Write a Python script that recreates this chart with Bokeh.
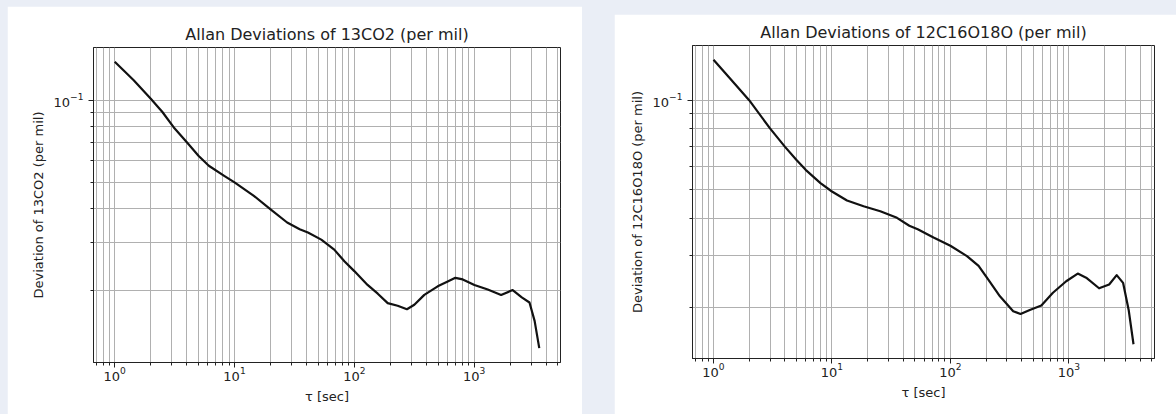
import math
from bokeh.plotting import figure
from bokeh.models import FixedTicker, Spacer, GlobalInlineStyleSheet, Range1d
from bokeh.layouts import row, column
from bokeh.embed import file_html
from bokeh.resources import INLINE

# ---- data ----
tau_13co2 = [1, 1.44, 2, 2.5, 3.1, 4, 5, 6.1, 8.2, 10, 14.5, 20, 27.5, 35, 41, 53, 68,
             83, 100, 129, 157, 190, 230, 275, 317, 384, 497, 602, 698, 804, 1006,
             1300, 1680, 2100, 2500, 2900, 3200, 3500]
dev_13co2 = [0.1385, 0.1185, 0.1014, 0.0906, 0.0797, 0.0702, 0.0626, 0.0575, 0.0528,
             0.0500, 0.0446, 0.0398, 0.0356, 0.0336, 0.0327, 0.0308, 0.0283, 0.0256,
             0.0236, 0.0210, 0.0195, 0.0180, 0.0176, 0.0171, 0.01775, 0.0193, 0.02075,
             0.0216, 0.0223, 0.0220, 0.0210, 0.0202, 0.0193, 0.0201, 0.0189, 0.0181,
             0.0155, 0.0123]

tau_18o = [1, 1.38, 2, 3, 4, 5, 6, 8, 10, 13.4, 18.5, 25.6, 35.4, 45, 53, 72, 100, 138,
           173, 209, 262, 339, 391, 468, 586, 734, 950, 1189, 1400, 1800, 2190, 2535,
           2870, 3200, 3515]
dev_18o = [0.1368, 0.1182, 0.1000, 0.0804, 0.0698, 0.0630, 0.0583, 0.0526, 0.0493,
           0.0460, 0.0440, 0.0423, 0.0402, 0.0378, 0.0368, 0.0345, 0.0324, 0.0299,
           0.0277, 0.0249, 0.0219, 0.0195, 0.0191, 0.0197, 0.0204, 0.0225, 0.0246,
           0.0261, 0.0253, 0.0233, 0.0240, 0.0258, 0.0243, 0.0197, 0.0151]

titles = ["Allan Deviations of 13CO2 (per mil)", "Allan Deviations of 12C16O18O (per mil)"]
ylabels = ["Deviation of 13CO2 (per mil)", "Deviation of 12C16O18O (per mil)"]
xlabel = "τ [sec]"
x_major = [1, 10, 100, 1000]
x_minor = [m * 10.0 ** e for e in range(-1, 4) for m in range(2, 10)]
y_major = [0.1]
y_minor = [m / 100 for m in range(2, 10)]

FONT = "DejaVu Sans"
TXT = "#222222"
GRID = "#b0b0b0"


def pad(vals):
    lo, hi = math.log10(min(vals)), math.log10(max(vals))
    m = 0.05 * (hi - lo)
    return 10 ** (lo - m), 10 ** (hi + m)


def make(tau, dev, title, ylabel, fw, fh, bl, br, bt, bb):
    x0, x1 = pad(tau)
    y0, y1 = pad(dev)
    p = figure(x_axis_type="log", y_axis_type="log",
               x_range=Range1d(x0, x1), y_range=Range1d(y0, y1),
               frame_width=fw, frame_height=fh,
               min_border_left=bl, min_border_right=br,
               min_border_top=bt, min_border_bottom=bb,
               title=title, output_backend="svg", toolbar_location=None)
    xt = FixedTicker(ticks=x_major, minor_ticks=[t for t in x_minor if x0 <= t <= x1])
    yt = FixedTicker(ticks=y_major, minor_ticks=[t for t in y_minor if y0 <= t <= y1])
    p.xaxis.ticker = xt
    p.yaxis.ticker = yt
    p.xgrid.ticker = xt
    p.ygrid.ticker = yt

    p.line(tau, dev, line_color="#111111", line_width=2.2, line_join="round")

    p.outline_line_color = "#222222"
    p.outline_line_width = 1
    p.background_fill_color = "white"
    p.border_fill_color = "white"

    p.grid.grid_line_color = GRID
    p.grid.grid_line_width = 1
    p.grid.minor_grid_line_color = GRID
    p.grid.minor_grid_line_width = 1

    p.axis.axis_line_color = "#222222"
    p.axis.major_tick_line_color = "#222222"
    p.axis.minor_tick_line_color = "#222222"
    p.axis.major_tick_out = 5
    p.axis.major_tick_in = 0
    p.axis.minor_tick_out = 3
    p.axis.minor_tick_in = 0
    p.axis.major_label_text_font = FONT
    p.axis.major_label_text_font_size = "13px"
    p.axis.major_label_text_color = TXT
    p.axis.axis_label_text_font = FONT
    p.axis.axis_label_text_font_size = "13px"
    p.axis.axis_label_text_font_style = "normal"
    p.axis.axis_label_text_color = TXT
    p.xaxis.major_label_standoff = -1
    p.xaxis.axis_label_standoff = 5
    p.yaxis.major_label_standoff = 5
    p.yaxis.axis_label_standoff = 5
    p.xaxis.axis_label = xlabel
    p.yaxis.axis_label = ylabel

    p.title.text_font = FONT
    p.title.text_font_size = "16px"
    p.title.text_font_style = "normal"
    p.title.text_color = TXT
    p.title.align = "center"
    p.title.standoff = 7
    return p


p1 = make(tau_13co2, dev_13co2, titles[0], ylabels[0], 467, 315, 86, 22, 41, 52)
p2 = make(tau_18o, dev_18o, titles[1], ylabels[1], 462, 313, 78, 22, 31, 56)

layout = column(
    Spacer(width=10, height=6),
    row(Spacer(width=7, height=10), p1, Spacer(width=32, height=10),
        column(Spacer(width=10, height=8), p2)),
    stylesheets=[GlobalInlineStyleSheet(css="body{background-color:#eaeef6;}")])

open("out.html", "w").write(file_html(layout, INLINE))
